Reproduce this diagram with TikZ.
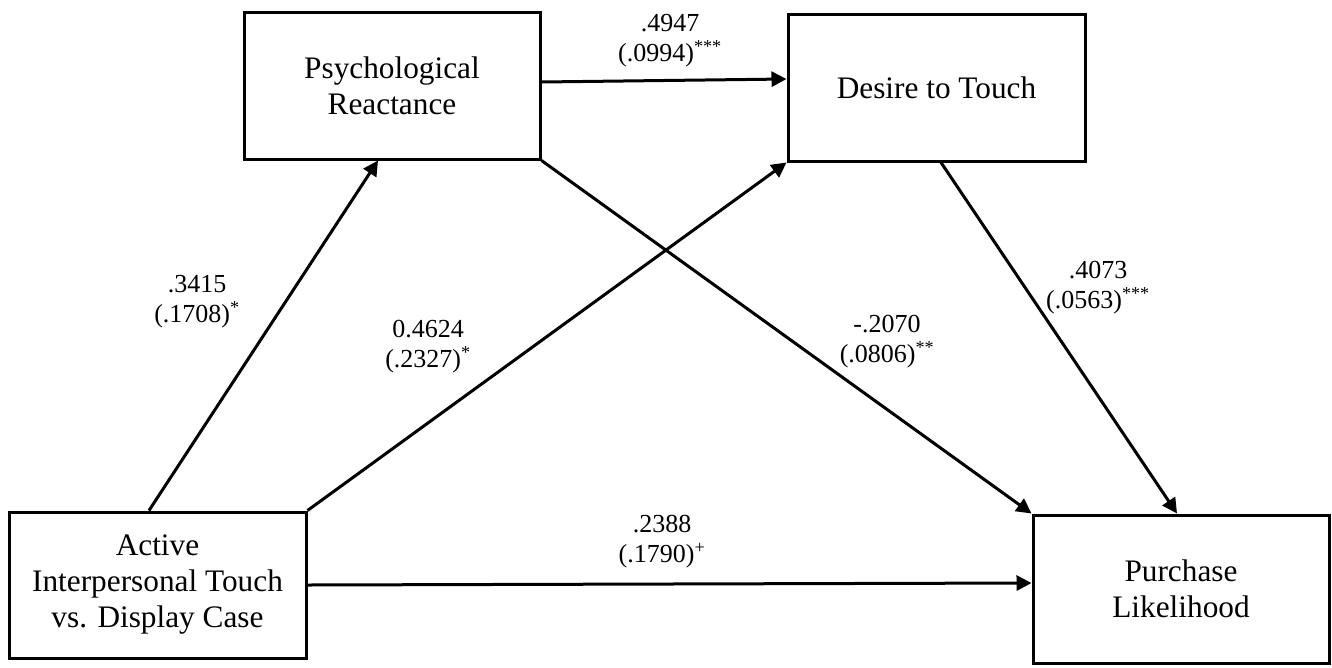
\documentclass[tikz,border=0pt]{standalone}
\usepackage{fontspec}
\setmainfont{Liberation Serif}
\usetikzlibrary{arrows.meta,calc}
\tikzset{
  boxnode/.style={draw=black, line width=3pt, rectangle, align=center, inner sep=0pt,
    font=\fontsize{31.3}{36}\selectfont},
  lbl/.style={align=center, inner sep=0pt, font=\fontsize{26}{30}\selectfont},
  conn/.style={line width=3pt, -{Triangle[length=15pt,width=15pt]}},
}
\begin{document}
\begin{tikzpicture}[x=1pt,y=-1pt]
\useasboundingbox (0,0) rectangle (1332,667);
\node[boxnode, minimum width=296pt, minimum height=147pt] (PR) at (392,85.5) {Psychological\\Reactance};
\node[boxnode, minimum width=297pt, minimum height=147pt] (DT) at (936.5,87.5) {Desire to Touch};
\node[boxnode, minimum width=297pt, minimum height=146pt] (AIT) at (157.5,585) {Active\\Interpersonal Touch\\vs. Display Case};
\node[boxnode, minimum width=296pt, minimum height=148pt] (PL) at (1181,589) {Purchase\\Likelihood};

\draw[conn] ($(AIT.north)+(-8.5,0)$) -- ($(PR.south)+(-14,0)$);
\draw[conn] (AIT.north east) -- (DT.south west);
\draw[conn] (AIT.east) -- ($(PL.west)+(0,-6)$);
\draw[conn] ($(PR.east)+(0,-3.5)$) -- ($(DT.west)+(0,-8.5)$);
\draw[conn] (PR.south east) -- (PL.north west);
\draw[conn] ($(DT.south)+(4.5,0)$) -- ($(PL.north)+(-4,0)$);

\node[lbl] (l1) at (670,41) {.4947\\(.0994)\textsuperscript{***}};
\node[lbl] (l2) at (197,302) {.3415\\(.1708)\textsuperscript{*}};
\node[lbl] (l3) at (428,347) {0.4624\\(.2327)\textsuperscript{*}};
\node[lbl] (l4) at (887,342) {-.2070\\(.0806)\textsuperscript{**}};
\node[lbl] (l5) at (1098,288) {.4073\\(.0563)\textsuperscript{***}};
\node[lbl] (l6) at (662,542) {.2388\\(.1790)\textsuperscript{+}};
\end{tikzpicture}
\end{document}
